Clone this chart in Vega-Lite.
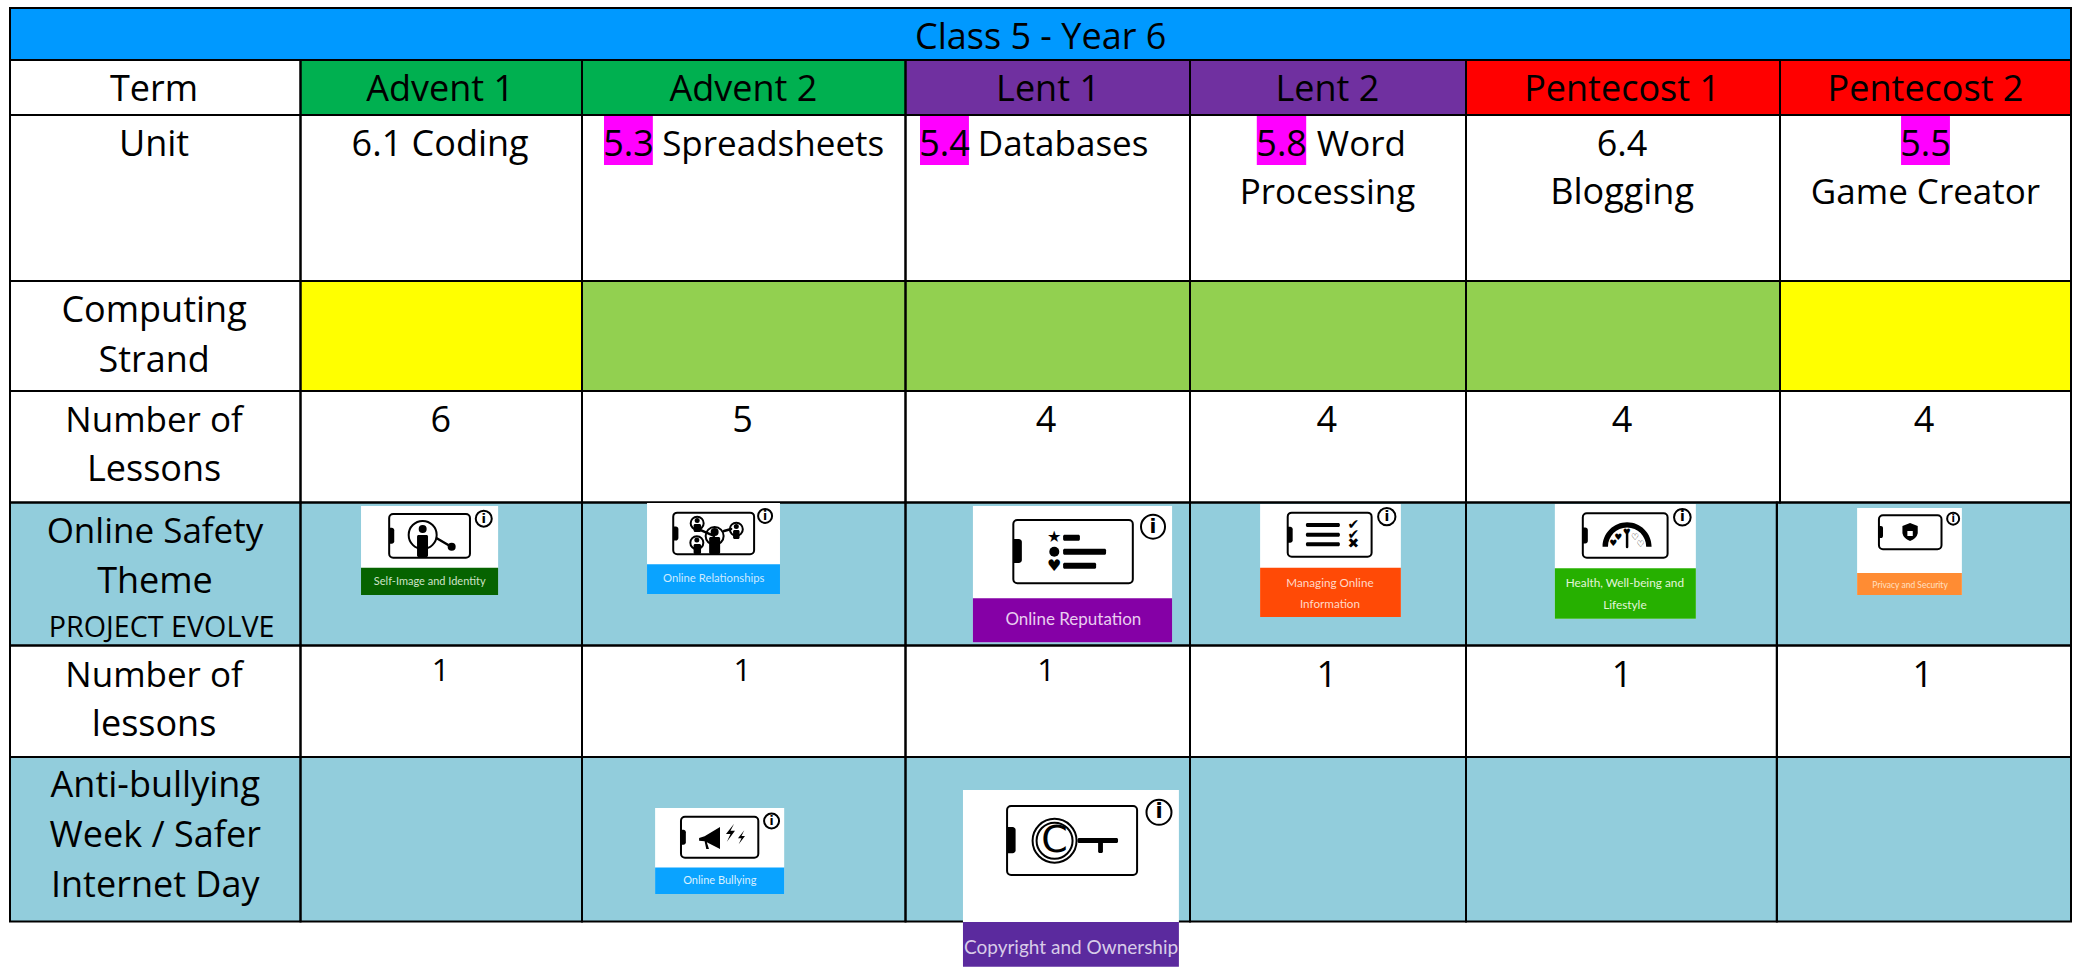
{"$schema":"https://vega.github.io/schema/vega-lite/v6.json","width":2076,"height":967,"padding":0,"autosize":{"type":"fit","contains":"padding"},"background":"#ffffff","view":{"stroke":null},
"datasets":{
"cells":[
{"col":0,"colEnd":7,"row":0,"rowEnd":1,"kind":"Banner"},
{"col":0,"colEnd":1,"row":1,"rowEnd":2,"kind":"Plain"},{"col":1,"colEnd":2,"row":1,"rowEnd":2,"kind":"Advent"},{"col":2,"colEnd":3,"row":1,"rowEnd":2,"kind":"Advent"},{"col":3,"colEnd":4,"row":1,"rowEnd":2,"kind":"Lent"},{"col":4,"colEnd":5,"row":1,"rowEnd":2,"kind":"Lent"},{"col":5,"colEnd":6,"row":1,"rowEnd":2,"kind":"Pentecost"},{"col":6,"colEnd":7,"row":1,"rowEnd":2,"kind":"Pentecost"},
{"col":0,"colEnd":1,"row":2,"rowEnd":3,"kind":"Plain"},{"col":1,"colEnd":2,"row":2,"rowEnd":3,"kind":"Plain"},{"col":2,"colEnd":3,"row":2,"rowEnd":3,"kind":"Plain"},{"col":3,"colEnd":4,"row":2,"rowEnd":3,"kind":"Plain"},{"col":4,"colEnd":5,"row":2,"rowEnd":3,"kind":"Plain"},{"col":5,"colEnd":6,"row":2,"rowEnd":3,"kind":"Plain"},{"col":6,"colEnd":7,"row":2,"rowEnd":3,"kind":"Plain"},
{"col":0,"colEnd":1,"row":3,"rowEnd":4,"kind":"Plain"},{"col":1,"colEnd":2,"row":3,"rowEnd":4,"kind":"Strand A"},{"col":2,"colEnd":3,"row":3,"rowEnd":4,"kind":"Strand B"},{"col":3,"colEnd":4,"row":3,"rowEnd":4,"kind":"Strand B"},{"col":4,"colEnd":5,"row":3,"rowEnd":4,"kind":"Strand B"},{"col":5,"colEnd":6,"row":3,"rowEnd":4,"kind":"Strand B"},{"col":6,"colEnd":7,"row":3,"rowEnd":4,"kind":"Strand A"},
{"col":0,"colEnd":1,"row":4,"rowEnd":5,"kind":"Plain"},{"col":1,"colEnd":2,"row":4,"rowEnd":5,"kind":"Plain"},{"col":2,"colEnd":3,"row":4,"rowEnd":5,"kind":"Plain"},{"col":3,"colEnd":4,"row":4,"rowEnd":5,"kind":"Plain"},{"col":4,"colEnd":5,"row":4,"rowEnd":5,"kind":"Plain"},{"col":5,"colEnd":6,"row":4,"rowEnd":5,"kind":"Plain"},{"col":6,"colEnd":7,"row":4,"rowEnd":5,"kind":"Plain"},
{"col":0,"colEnd":1,"row":5,"rowEnd":6,"kind":"Safety"},{"col":1,"colEnd":2,"row":5,"rowEnd":6,"kind":"Safety"},{"col":2,"colEnd":3,"row":5,"rowEnd":6,"kind":"Safety"},{"col":3,"colEnd":4,"row":5,"rowEnd":6,"kind":"Safety"},{"col":4,"colEnd":5,"row":5,"rowEnd":6,"kind":"Safety"},{"col":5,"colEnd":5.99,"row":5,"rowEnd":6,"kind":"Safety"},{"col":5.99,"colEnd":7,"row":5,"rowEnd":6,"kind":"Safety"},
{"col":0,"colEnd":1,"row":6,"rowEnd":7,"kind":"Plain"},{"col":1,"colEnd":2,"row":6,"rowEnd":7,"kind":"Plain"},{"col":2,"colEnd":3,"row":6,"rowEnd":7,"kind":"Plain"},{"col":3,"colEnd":4,"row":6,"rowEnd":7,"kind":"Plain"},{"col":4,"colEnd":5,"row":6,"rowEnd":7,"kind":"Plain"},{"col":5,"colEnd":5.99,"row":6,"rowEnd":7,"kind":"Plain"},{"col":5.99,"colEnd":7,"row":6,"rowEnd":7,"kind":"Plain"},
{"col":0,"colEnd":1,"row":7,"rowEnd":8,"kind":"Safety"},{"col":1,"colEnd":2,"row":7,"rowEnd":8,"kind":"Safety"},{"col":2,"colEnd":3,"row":7,"rowEnd":8,"kind":"Safety"},{"col":3,"colEnd":4,"row":7,"rowEnd":8,"kind":"Safety"},{"col":4,"colEnd":5,"row":7,"rowEnd":8,"kind":"Safety"},{"col":5,"colEnd":5.99,"row":7,"rowEnd":8,"kind":"Safety"},{"col":5.99,"colEnd":7,"row":7,"rowEnd":8,"kind":"Safety"}
],
"highlights":[
{"unit":"5.3","col":2.068,"colEnd":2.219,"row":2.006,"rowEnd":2.301},
{"unit":"5.4","col":3.051,"colEnd":3.223,"row":2.006,"rowEnd":2.301},
{"unit":"5.8","col":4.242,"colEnd":4.421,"row":2.006,"rowEnd":2.301},
{"unit":"5.5","col":6.416,"colEnd":6.584,"row":2.006,"rowEnd":2.301}
],
"tableText":[
{"text":"Class 5 - Year 6","col":3.475,"row":0.794,"role":"cell"},
{"text":"Term","col":0.496,"row":1.74,"role":"cell"},
{"text":"Advent 1","col":1.496,"row":1.74,"role":"cell"},{"text":"Advent 2","col":2.499,"row":1.74,"role":"cell"},{"text":"Lent 1","col":3.501,"row":1.74,"role":"cell"},{"text":"Lent 2","col":4.498,"row":1.74,"role":"cell"},{"text":"Pentecost 1","col":5.497,"row":1.74,"role":"cell"},{"text":"Pentecost 2","col":6.5,"row":1.74,"role":"cell"},
{"text":"Unit","col":0.496,"row":2.245,"role":"cell"},
{"text":"6.1 Coding","col":1.496,"row":2.245,"role":"cell"},
{"text":"5.3","col":2.144,"row":2.245,"role":"cell"},{"text":"Spreadsheets","col":2.591,"row":2.245,"role":"wide"},
{"text":"5.4","col":3.137,"row":2.245,"role":"cell"},{"text":"Databases","col":3.554,"row":2.245,"role":"wide"},
{"text":"5.8","col":4.332,"row":2.245,"role":"cell"},{"text":"Word","col":4.621,"row":2.245,"role":"wide"},{"text":"Processing","col":4.498,"row":2.536,"role":"wide"},
{"text":"6.4","col":5.497,"row":2.245,"role":"cell"},{"text":"Blogging","col":5.497,"row":2.536,"role":"cell"},
{"text":"5.5","col":6.5,"row":2.245,"role":"cell"},{"text":"Game Creator","col":6.5,"row":2.536,"role":"wide"},
{"text":"Computing","col":0.496,"row":3.373,"role":"cell"},{"text":"Strand","col":0.496,"row":3.825,"role":"cell"},
{"text":"Number of","col":0.496,"row":4.365,"role":"wide"},{"text":"Lessons","col":0.496,"row":4.807,"role":"cell"},
{"text":"6","col":1.498,"row":4.365,"role":"cell"},{"text":"5","col":2.496,"row":4.365,"role":"cell"},{"text":"4","col":3.494,"row":4.365,"role":"cell"},{"text":"4","col":4.496,"row":4.365,"role":"cell"},{"text":"4","col":5.497,"row":4.365,"role":"cell"},{"text":"4","col":6.495,"row":4.365,"role":"cell"},
{"text":"Online Safety","col":0.499,"row":5.281,"role":"wide"},{"text":"Theme","col":0.499,"row":5.631,"role":"cell"},{"text":"PROJECT EVOLVE","col":0.522,"row":5.938,"role":"project"},
{"text":"Number of","col":0.496,"row":6.37,"role":"wide"},{"text":"lessons","col":0.496,"row":6.809,"role":"cell"},
{"text":"1","col":1.498,"row":6.316,"role":"small"},{"text":"1","col":2.496,"row":6.316,"role":"small"},{"text":"1","col":3.494,"row":6.316,"role":"small"},{"text":"1","col":4.496,"row":6.37,"role":"cell"},{"text":"1","col":5.497,"row":6.37,"role":"cell"},{"text":"1","col":6.491,"row":6.37,"role":"cell"},
{"text":"Anti-bullying","col":0.5,"row":7.245,"role":"cell"},{"text":"Week / Safer","col":0.5,"row":7.549,"role":"cell"},{"text":"Internet Day","col":0.5,"row":7.849,"role":"cell"}
],
"badges":[
{"badge":"Self-Image","col":1.215,"colEnd":1.702,"row":5.024,"rowStrip":5.456,"rowEnd":5.647},
{"badge":"Relationships","col":2.201,"colEnd":2.612,"row":5.003,"rowStrip":5.432,"rowEnd":5.64},
{"badge":"Reputation","col":3.237,"colEnd":3.937,"row":5.024,"rowStrip":5.67,"rowEnd":5.978},
{"badge":"Managing","col":4.254,"colEnd":4.764,"row":5.01,"rowStrip":5.456,"rowEnd":5.801},
{"badge":"Health","col":5.283,"colEnd":5.732,"row":5.01,"rowStrip":5.46,"rowEnd":5.813},
{"badge":"Privacy","col":6.265,"colEnd":6.625,"row":5.038,"rowStrip":5.493,"rowEnd":5.647},
{"badge":"Bullying","col":2.226,"colEnd":2.625,"row":7.31,"rowStrip":7.671,"rowEnd":7.833},
{"badge":"Copyright","col":3.202,"colEnd":3.961,"row":7.201,"rowStrip":8.013,"rowEnd":8.993}
],
"devices":[
{"badge":"Self-Image","col":1.315,"colEnd":1.602,"row":5.08,"rowEnd":5.386,"notchEnd":1.333,"notchTop":5.177,"notchBottom":5.289},
{"badge":"Relationships","col":2.282,"colEnd":2.532,"row":5.071,"rowEnd":5.362,"notchEnd":2.298,"notchTop":5.168,"notchBottom":5.266},
{"badge":"Reputation","col":3.379,"colEnd":3.799,"row":5.122,"rowEnd":5.565,"notchEnd":3.409,"notchTop":5.255,"notchBottom":5.423},
{"badge":"Managing","col":4.354,"colEnd":4.658,"row":5.071,"rowEnd":5.379,"notchEnd":4.372,"notchTop":5.169,"notchBottom":5.281},
{"badge":"Health","col":5.372,"colEnd":5.642,"row":5.076,"rowEnd":5.386,"notchEnd":5.388,"notchTop":5.175,"notchBottom":5.287},
{"badge":"Privacy","col":6.34,"colEnd":6.555,"row":5.09,"rowEnd":5.327,"notchEnd":6.354,"notchTop":5.164,"notchBottom":5.248},
{"badge":"Bullying","col":2.306,"colEnd":2.545,"row":7.363,"rowEnd":7.612,"notchEnd":2.321,"notchTop":7.442,"notchBottom":7.533},
{"badge":"Copyright","col":3.357,"colEnd":3.814,"row":7.298,"rowEnd":7.717,"notchEnd":3.387,"notchTop":7.426,"notchBottom":7.585}
],
"infos":[
{"badge":"Self-Image","col":1.651,"row":5.113,"i":"i"},
{"badge":"Relationships","col":2.566,"row":5.094,"i":"i"},
{"badge":"Reputation","col":3.87,"row":5.169,"i":"i"},
{"badge":"Managing","col":4.713,"row":5.099,"i":"i"},
{"badge":"Health","col":5.689,"row":5.103,"i":"i"},
{"badge":"Privacy","col":6.595,"row":5.113,"i":"i"},
{"badge":"Bullying","col":2.586,"row":7.389,"i":"i"},
{"badge":"Copyright","col":3.891,"row":7.336,"i":"i"}
],
"labels":[
{"badge":"Self-Image","text":"Self-Image and Identity","col":1.459,"row":5.556},
{"badge":"Relationships","text":"Online Relationships","col":2.407,"row":5.537},
{"badge":"Reputation","text":"Online Reputation","col":3.59,"row":5.822},
{"badge":"Managing","text":"Managing Online","col":4.507,"row":5.561},
{"badge":"Managing","text":"Information","col":4.507,"row":5.708},
{"badge":"Health","text":"Health, Well-being and","col":5.506,"row":5.565},
{"badge":"Health","text":"Lifestyle","col":5.506,"row":5.717},
{"badge":"Privacy","text":"Privacy and Security","col":6.447,"row":5.575},
{"badge":"Bullying","text":"Online Bullying","col":2.426,"row":7.754},
{"badge":"Copyright","text":"Copyright and Ownership","col":3.582,"row":8.589}
],
"bars":[
{"col":3.554,"colEnd":3.613,"row":5.225,"rowEnd":5.267},{"col":3.554,"colEnd":3.705,"row":5.323,"rowEnd":5.365},{"col":3.554,"colEnd":3.67,"row":5.421,"rowEnd":5.463},
{"col":4.42,"colEnd":4.543,"row":5.143,"rowEnd":5.171},{"col":4.42,"colEnd":4.543,"row":5.211,"rowEnd":5.239},{"col":4.42,"colEnd":4.543,"row":5.278,"rowEnd":5.306},
{"col":3.605,"colEnd":3.747,"row":7.492,"rowEnd":7.523},{"col":3.677,"colEnd":3.694,"row":7.492,"rowEnd":7.584},{"col":3.712,"colEnd":3.726,"row":7.492,"rowEnd":7.517},
{"col":1.414,"colEnd":1.453,"row":5.227,"rowEnd":5.381},
{"col":2.345,"colEnd":2.368,"row":5.15,"rowEnd":5.206},{"col":2.345,"colEnd":2.368,"row":5.29,"rowEnd":5.36},{"col":2.393,"colEnd":2.427,"row":5.241,"rowEnd":5.36},{"col":2.467,"colEnd":2.487,"row":5.192,"rowEnd":5.255}
],
"links":[
{"col":1.484,"colEnd":1.528,"row":5.25,"rowEnd":5.301},
{"col":2.365,"colEnd":2.408,"row":5.192,"rowEnd":5.234},
{"col":2.439,"colEnd":2.461,"row":5.199,"rowEnd":5.185},
{"col":5.513,"colEnd":5.513,"row":5.213,"rowEnd":5.311}
],
"rings":[
{"col":1.434,"row":5.227,"ring":"lens"},
{"col":2.356,"row":5.145,"ring":"person"},{"col":2.355,"row":5.281,"ring":"person"},{"col":2.41,"row":5.234,"ring":"centre person"},{"col":2.477,"row":5.187,"ring":"person"},
{"col":3.524,"row":7.509,"ring":"copyright outer"},{"col":3.524,"row":7.509,"ring":"copyright inner"}
],
"dots":[
{"col":1.434,"row":5.185,"dot":"medium"},{"col":1.537,"row":5.309,"dot":"medium"},
{"col":2.356,"row":5.126,"dot":"small"},{"col":2.355,"row":5.262,"dot":"small"},{"col":2.41,"row":5.206,"dot":"medium"},{"col":2.477,"row":5.168,"dot":"small"},
{"col":3.523,"row":5.344,"dot":"large"}
],
"shapes":[
{"glyph":"shield","col":6.447,"row":5.206},
{"glyph":"gauge","col":5.513,"row":5.223},
{"glyph":"megaphone","col":2.396,"row":7.492},
{"glyph":"bolt","col":2.459,"row":7.46},
{"glyph":"small bolt","col":2.493,"row":7.488}
],
"glyphs":[
{"text":"★","col":3.523,"row":5.239,"glyph":"icon"},
{"text":"♥","col":3.523,"row":5.444,"glyph":"icon"},
{"text":"✔","col":4.592,"row":5.157,"glyph":"mark"},{"text":"✔","col":4.592,"row":5.225,"glyph":"mark"},{"text":"✖","col":4.592,"row":5.292,"glyph":"mark"},
{"text":"♥","col":5.469,"row":5.285,"glyph":"tiny"},{"text":"♥","col":5.485,"row":5.243,"glyph":"tiny"},{"text":"♥","col":5.512,"row":5.208,"glyph":"tiny"},{"text":"♡","col":5.538,"row":5.239,"glyph":"tiny"},{"text":"♡","col":5.556,"row":5.29,"glyph":"tiny"},
{"text":"C","col":3.524,"row":7.509,"glyph":"letter"}
]
},
"encoding":{
"x":{"field":"col","type":"quantitative","axis":null,"scale":{"domain":[0,1,2,3,4,5,6,7],"range":[10,300.5,582,905.5,1190,1466,1780,2071]}},
"y":{"field":"row","type":"quantitative","axis":null,"scale":{"domain":[0,1,2,3,4,5,6,7,8,9],"range":[8,60,115,281,391,502.5,645.5,757,921.5,967]}}
},
"layer":[
{"data":{"name":"cells"},"mark":{"type":"rect"},"encoding":{"x2":{"field":"colEnd"},"y2":{"field":"rowEnd"},"color":{"field":"kind","type":"nominal","legend":null,"scale":{"domain":["Banner","Plain","Advent","Lent","Pentecost","Strand A","Strand B","Safety"],"range":["#0099ff","#ffffff","#00b050","#7030a0","#ff0000","#ffff00","#92d050","#92cddc"]}}}},
{"data":{"name":"highlights"},"mark":{"type":"rect","fill":"#ff00ff"},"encoding":{"x2":{"field":"colEnd"},"y2":{"field":"rowEnd"}}},
{"data":{"name":"cells"},"mark":{"type":"rect","filled":false,"stroke":"#000000","strokeWidth":2},"encoding":{"x2":{"field":"colEnd"},"y2":{"field":"rowEnd"}}},
{"data":{"name":"tableText"},"mark":{"type":"text","font":"Open Sans","align":"center","baseline":"alphabetic","color":"#000000"},"encoding":{"text":{"field":"text"},"size":{"field":"role","type":"nominal","legend":null,"scale":{"type":"ordinal","domain":["cell","wide","small","project"],"range":[36,35,31,28.7]}}}},
{"data":{"name":"badges"},"mark":{"type":"rect","fill":"#ffffff"},"encoding":{"x2":{"field":"colEnd"},"y2":{"field":"rowEnd"}}},
{"data":{"name":"badges"},"mark":{"type":"rect"},"encoding":{"y":{"field":"rowStrip","type":"quantitative"},"x2":{"field":"colEnd"},"y2":{"field":"rowEnd"},"color":{"field":"badge","type":"nominal","legend":null,"scale":{"domain":["Self-Image","Relationships","Reputation","Managing","Health","Privacy","Bullying","Copyright"],"range":["#066300","#0aa3ff","#8500a6","#ff4a06","#26b000","#ff8c33","#0aa3ff","#5b2a9e"]}}}},
{"data":{"name":"devices"},"mark":{"type":"rect","filled":false,"stroke":"#000000","strokeWidth":2,"cornerRadius":4},"encoding":{"x2":{"field":"colEnd"},"y2":{"field":"rowEnd"}}},
{"data":{"name":"devices"},"mark":{"type":"rect","fill":"#000000","cornerRadiusTopRight":3,"cornerRadiusBottomRight":3},"encoding":{"x2":{"field":"notchEnd"},"y":{"field":"notchTop","type":"quantitative"},"y2":{"field":"notchBottom"}}},
{"data":{"name":"bars"},"mark":{"type":"rect","fill":"#000000","cornerRadius":1.5},"encoding":{"x2":{"field":"colEnd"},"y2":{"field":"rowEnd"}}},
{"data":{"name":"links"},"mark":{"type":"rule","color":"#000000","strokeWidth":2.5,"strokeCap":"round"},"encoding":{"x2":{"field":"colEnd"},"y2":{"field":"rowEnd"}}},
{"data":{"name":"rings"},"mark":{"type":"point","filled":false,"stroke":"#000000","strokeWidth":2,"shape":"circle","opacity":1},"encoding":{"size":{"field":"ring","type":"nominal","legend":null,"scale":{"type":"ordinal","domain":["lens","person","centre person","copyright outer","copyright inner"],"range":[784,169,324,1936,1296]}}}},
{"data":{"name":"dots"},"mark":{"type":"point","filled":true,"fill":"#000000","stroke":null,"shape":"circle","opacity":1},"encoding":{"size":{"field":"dot","type":"nominal","legend":null,"scale":{"type":"ordinal","domain":["small","medium","large"],"range":[25,64,100]}}}},
{"data":{"name":"shapes"},"mark":{"type":"point","filled":true,"fill":"#000000","stroke":null,"opacity":1},"encoding":{"shape":{"field":"glyph","type":"nominal","legend":null,"scale":{"domain":["shield","gauge","megaphone","bolt","small bolt"],"range":["M0,-1 L0.85,-0.65 L0.85,0.15 Q0.75,0.7 0,1 Q-0.75,0.7 -0.85,0.15 L-0.85,-0.65 Z M-0.3,-0.1 L-0.3,0.45 L0.3,0.45 L0.3,-0.1 Z","M-1,0.5 A1,1 0 0 1 1,0.5 L0.78,0.5 A0.78,0.78 0 0 0 -0.78,0.5 Z","M-1,0 L-0.5,-0.15 L0.9,-1 L0.9,1 L-0.3,0.4 L-0.1,1 L-0.35,1 L-0.5,0.3 L-1,0.25 Z","M0.4,-1 L-0.5,0.15 L0,0.15 L-0.4,1 L0.5,-0.2 L0,-0.2 Z","M0.4,-1 L-0.5,0.15 L0,0.15 L-0.4,1 L0.5,-0.2 L0,-0.2 Z"]}},"size":{"field":"glyph","type":"nominal","legend":null,"scale":{"type":"ordinal","domain":["shield","gauge","megaphone","bolt","small bolt"],"range":[324,2401,484,324,196]}}}},
{"data":{"name":"glyphs"},"mark":{"type":"text","font":"DejaVu Sans","align":"center","baseline":"middle","color":"#000000"},"encoding":{"text":{"field":"text"},"size":{"field":"glyph","type":"nominal","legend":null,"scale":{"type":"ordinal","domain":["icon","mark","tiny","letter"],"range":[16,14,9,38]}}}},
{"data":{"name":"infos"},"mark":{"type":"point","filled":false,"stroke":"#000000","strokeWidth":2,"shape":"circle","opacity":1},"encoding":{"size":{"field":"badge","type":"nominal","legend":null,"scale":{"type":"ordinal","domain":["Self-Image","Relationships","Reputation","Managing","Health","Privacy","Bullying","Copyright"],"range":[256,196,576,300,276,144,225,625]}}}},
{"data":{"name":"infos"},"mark":{"type":"text","font":"DejaVu Sans","fontWeight":"bold","align":"center","baseline":"middle","color":"#000000"},"encoding":{"text":{"field":"i"},"size":{"field":"badge","type":"nominal","legend":null,"scale":{"type":"ordinal","domain":["Self-Image","Relationships","Reputation","Managing","Health","Privacy","Bullying","Copyright"],"range":[13,12,20,14,14,10,12,21]}}}},
{"data":{"name":"labels"},"mark":{"type":"text","font":"Lato","align":"center","baseline":"middle"},"encoding":{"text":{"field":"text"},"size":{"field":"badge","type":"nominal","legend":null,"scale":{"type":"ordinal","domain":["Self-Image","Relationships","Reputation","Managing","Health","Privacy","Bullying","Copyright"],"range":[11,11.3,17,11.7,11.8,8.5,11,19]}},"color":{"field":"badge","type":"nominal","legend":null,"scale":{"domain":["Self-Image","Relationships","Reputation","Managing","Health","Privacy","Bullying","Copyright"],"range":["#cfe3c8","#cdeaff","#e9cdf0","#ffd9c8","#e3f5da","#ffe0c4","#d9f0ff","#d8cce8"]}}}}
],
"resolve":{"scale":{"color":"independent","size":"independent","shape":"independent"}}
}
